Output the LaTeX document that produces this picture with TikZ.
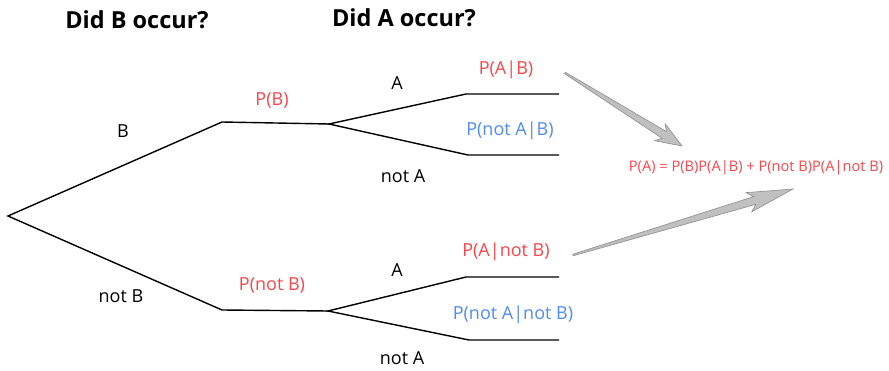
\documentclass[tikz,border=0pt]{standalone}
\usepackage{fontspec}
\setmainfont{Open Sans}
\usetikzlibrary{calc}
\definecolor{pred}{RGB}{250,70,75}
\definecolor{pblue}{RGB}{80,140,240}
\definecolor{arrfill}{RGB}{192,192,192}
\definecolor{arrline}{RGB}{140,140,140}
\tikzset{
  branch/.style={line width=1.4pt, black},
  lbl/.style={inner sep=0pt, font=\fontsize{18}{20}\selectfont},
  prob/.style={lbl, text=pred},
  probb/.style={lbl, text=pblue},
  title/.style={inner sep=0pt, font=\fontsize{23.5}{26}\selectfont\bfseries},
  fatarrow/.style={fill=arrfill, draw=arrline, line width=0.6pt, line join=miter}
}
\begin{document}
\begin{tikzpicture}[x=1pt,y=-1pt]
\useasboundingbox (0,0) rectangle (889,371);
% tree points
\coordinate (root) at (8,216);
\coordinate (b) at (222,122);
\coordinate (bh) at (329,124);
\coordinate (ba) at (466,94);
\coordinate (bae) at (559,94);
\coordinate (bn) at (468,155);
\coordinate (bne) at (559,155);
\coordinate (nb) at (222,310);
\coordinate (nbh) at (328,311);
\coordinate (nba) at (466,277);
\coordinate (nbae) at (559,277);
\coordinate (nbn) at (469,340);
\coordinate (nbne) at (559,340);
\draw[branch] (b) -- (root) -- (nb);
\draw[branch] (b) -- (bh);
\draw[branch] (bae) -- (ba) -- (bh) -- (bn) -- (bne);
\draw[branch] (nb) -- (nbh);
\draw[branch] (nbae) -- (nba) -- (nbh) -- (nbn) -- (nbne);
% titles
\node[title] (t1) at (137,20) {Did B occur?};
\node[title] (t2) at (404,18) {Did A occur?};
% labels
\node[lbl] (lB) at (123,131) {B};
\node[lbl] (lnB) at (121,296) {not B};
\node[prob] (pB) at (272,101) {P(B)};
\node[prob] (pnB) at (272,285) {P(not B)};
\node[lbl] (lA1) at (397,83) {A};
\node[lbl] (lnA1) at (403,176) {not A};
\node[lbl] (lA2) at (397,270) {A};
\node[lbl] (lnA2) at (402,358) {not A};
\node[prob] (pAB) at (506,70) {P(A|B)};
\node[probb] (pnAB) at (510,131) {P(not A|B)};
\node[prob] (pAnB) at (506,252) {P(A|not B)};
\node[probb] (pnAnB) at (513,315) {P(not A|not B)};
\node[inner sep=0pt, text=pred, font=\fontsize{14.6}{16}\selectfont] (f) at (756,168) {P(A) = P(B)P(A|B) + P(not B)P(A|not B)};
% fat tapered arrows
\coordinate (s1) at (565,73);
\coordinate (e1) at (682,146);
\coordinate (j1) at ($(e1)!21pt!(s1)$);
\coordinate (c1) at ($(e1)!26pt!(s1)$);
\draw[fatarrow] ($(s1)!0.8pt!90:(e1)$) -- ($(j1)!4pt!-90:(s1)$) -- ($(c1)!10pt!-90:(s1)$) -- (e1)
  -- ($(c1)!10pt!90:(s1)$) -- ($(j1)!4pt!90:(s1)$) -- ($(s1)!0.8pt!-90:(e1)$) -- cycle;
\coordinate (s2) at (573,255);
\coordinate (e2) at (793,189);
\coordinate (j2) at ($(e2)!40pt!(s2)$);
\coordinate (c2) at ($(e2)!46pt!(s2)$);
\draw[fatarrow] ($(s2)!0.8pt!90:(e2)$) -- ($(j2)!4pt!-90:(s2)$) -- ($(c2)!10pt!-90:(s2)$) -- (e2)
  -- ($(c2)!10pt!90:(s2)$) -- ($(j2)!4pt!90:(s2)$) -- ($(s2)!0.8pt!-90:(e2)$) -- cycle;
\end{tikzpicture}
\end{document}
